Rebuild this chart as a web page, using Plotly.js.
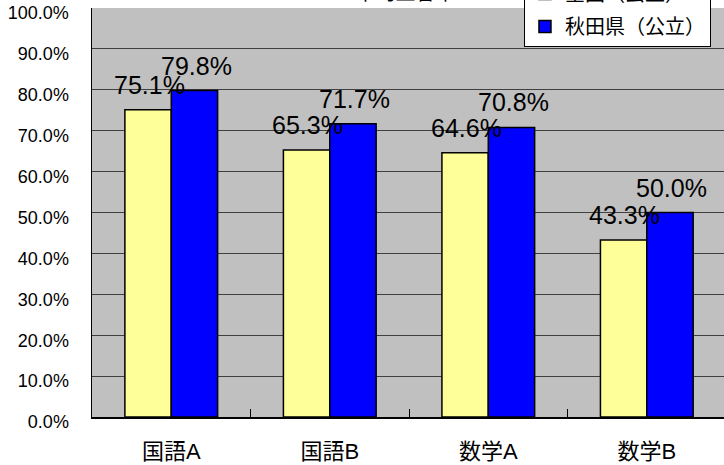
<!DOCTYPE html>
<html>
<head>
<meta charset="utf-8">
<script src="https://cdn.plot.ly/plotly-3.0.1.min.js"></script>
<style>
html,body{margin:0;padding:0;overflow:hidden;background:#fff;}
#chart{width:724px;height:465px;}
</style>
</head>
<body>
<div id="chart"></div>
<script>
var categories = ["国語A", "国語B", "数学A", "数学B"];
var nationalName = "全国（公立）";
var akitaName = "秋田県（公立）";
var nationalValues = [0.751, 0.653, 0.646, 0.433];
var akitaValues = [0.798, 0.717, 0.708, 0.500];
var yTickValues = [0, 0.1, 0.2, 0.3, 0.4, 0.5, 0.6, 0.7, 0.8, 0.9, 1.0];
var chartTitle = "平均正答率";

var barLine = {color: "#000000", width: 1.5};
var traces = [
  {type: "bar", name: nationalName, x: categories, y: nationalValues, legendgroup: "g1",
   marker: {color: "#FFFF99", line: barLine}, hoverinfo: "skip"},
  {type: "bar", name: akitaName, x: categories, y: akitaValues, legendgroup: "g2",
   marker: {color: "#0000FF", line: barLine}, hoverinfo: "skip"}
];

var labelFont = {family: "'Liberation Sans Narrow', 'Liberation Sans', sans-serif", size: 25, color: "#000"};
var annotations = [];
function fmt(v){ return (v*100).toFixed(1) + "%"; }
categories.forEach(function(c, i){
  annotations.push({x: c, y: nationalValues[i], xref: "x", yref: "y", text: fmt(nationalValues[i]),
    showarrow: false, xanchor: "center", yanchor: "bottom", xshift: -22, yshift: 9, font: labelFont});
  annotations.push({x: c, y: akitaValues[i], xref: "x", yref: "y", text: fmt(akitaValues[i]),
    showarrow: false, xanchor: "center", yanchor: "bottom", xshift: 25, yshift: 9, font: labelFont});
});

var layout = {
  width: 724, height: 465,
  margin: {l: 92, r: 0, t: 8, b: 48, autoexpand: false},
  paper_bgcolor: "#ffffff",
  plot_bgcolor: "#C0C0C0",
  barmode: "group",
  bargap: 0.415,
  bargroupgap: 0,
  showlegend: true,
  title: {text: chartTitle, font: {family: "'Noto Sans CJK JP', sans-serif", size: 20, color: "#000"},
          x: 0.56, xanchor: "center", xref: "container", y: 1.0, yanchor: "bottom", yref: "container"},
  legend: {x: 0.6835, xanchor: "left", y: 0.9046, yanchor: "bottom",
           bgcolor: "#ffffff", bordercolor: "#000000", borderwidth: 1,
           font: {family: "'Noto Sans CJK JP', sans-serif", size: 20, color: "#000"},
           traceorder: "grouped", tracegroupgap: 4},
  xaxis: {type: "category", range: [-0.5, 3.487], showgrid: false,
          showline: true, linecolor: "#000", linewidth: 1.5,
          ticks: "inside", tickson: "boundaries", ticklen: 8, tickcolor: "#000", tickwidth: 1,
          tickfont: {family: "'Liberation Sans', 'Noto Sans CJK JP', sans-serif", size: 22, color: "#000"},
          ticklabelstandoff: 14, fixedrange: true},
  yaxis: {range: [0, 1], tickvals: yTickValues, tickformat: ".1%",
          showgrid: true, gridcolor: "#404040", gridwidth: 1,
          showline: true, linecolor: "#000", linewidth: 1.5, zeroline: false,
          ticks: "", tickfont: {family: "'Liberation Sans', sans-serif", size: 18, color: "#000"},
          ticklabelstandoff: 18, ticklabelshift: 5, fixedrange: true},
  annotations: annotations
};

Plotly.newPlot("chart", traces, layout, {staticPlot: true, displayModeBar: false});
</script>
</body>
</html>
